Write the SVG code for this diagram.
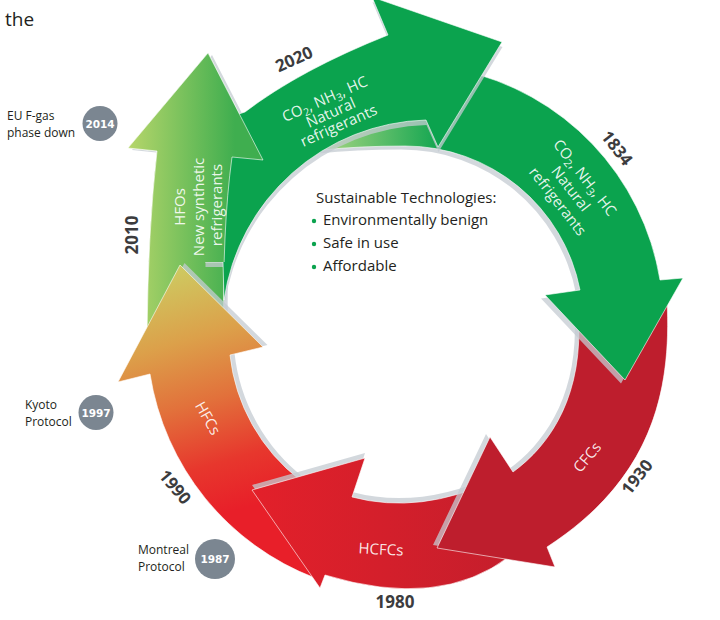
<svg xmlns="http://www.w3.org/2000/svg" xmlns:xlink="http://www.w3.org/1999/xlink" width="720" height="620" viewBox="0 0 720 620">
<style>
  .arrow { stroke:#ffffff; stroke-opacity:0.6; stroke-width:1; stroke-linejoin:miter; }
  .shadow { fill:#c4cbd1; opacity:0.75; }
  .lbl { font-family:"Open Sans","Noto Sans","DejaVu Sans",sans-serif; font-size:15px; fill:#ffffff; fill-opacity:0.9; text-anchor:middle; }
  .year { font-family:"Open Sans","Noto Sans","DejaVu Sans",sans-serif; font-weight:700; font-size:17px; fill:#3c3c3e; text-anchor:middle; }
  .note { font-family:"Open Sans","Noto Sans","DejaVu Sans",sans-serif; font-size:12px; fill:#231f20; }
  .badge { fill:#7b8691; }
  .badge-t { font-family:"DejaVu Sans","Liberation Sans",sans-serif; font-weight:700; font-size:10.5px; fill:#ffffff; text-anchor:middle; }
  .ctr { font-family:"Open Sans","Noto Sans","DejaVu Sans",sans-serif; font-size:15px; fill:#231f20; }
  .dot { fill:#0ba34e; }
</style>
<defs>
  <linearGradient id="gF" gradientUnits="userSpaceOnUse" x1="130" y1="0" x2="235" y2="0">
    <stop offset="0" stop-color="#b4d56a"/>
    <stop offset="1" stop-color="#3fae4f"/>
  </linearGradient>
  <linearGradient id="gE" gradientUnits="userSpaceOnUse" x1="185" y1="262" x2="255" y2="505">
    <stop offset="0" stop-color="#cdcc62"/>
    <stop offset="0.3" stop-color="#dca04a"/>
    <stop offset="0.55" stop-color="#e2713b"/>
    <stop offset="0.8" stop-color="#e7372d"/>
    <stop offset="1" stop-color="#e81f29"/>
  </linearGradient>
  <linearGradient id="gD" gradientUnits="userSpaceOnUse" x1="250" y1="0" x2="520" y2="0">
    <stop offset="0" stop-color="#e3202a"/>
    <stop offset="1" stop-color="#c41e2c"/>
  </linearGradient>
  <linearGradient id="gB" gradientUnits="userSpaceOnUse" x1="322" y1="0" x2="445" y2="0">
    <stop offset="0" stop-color="#a8d682"/>
    <stop offset="1" stop-color="#0ba34e"/>
  </linearGradient>
  <path id="pF" d="M147,335 Q148,230 157,151 L128,148 L208,53 L263,160 L232,157 Q222,230 224,335 Z"/>
  <path id="pE" d="M315,578 A262,262 0 0 1 150,374 L118,382 L180,265 L263,347 L230,355 A183,183 0 0 0 300,480 Z"/>
  <path id="pD" d="M510,556 Q440,610 325,575 L320,588 L252,490 L365,458 L352,497 Q420,515 495,480 Z"/>
  <path id="pC" d="M667,300 C672,395 650,480 547,547 L555,567 L437,548 L490,437 L513,472 C550,445 585,395 578,310 Z"/>
  <path id="pB" d="M460,70 A257,257 0 0 1 660,280 L683,278 L625,380 L545,295 L580,290 A178,178 0 0 0 405,146 Q360,146 322,150 L340,110 Z"/>
  <path id="pA" d="M205,125 L245,112 Q300,70 388,35 L372,-3 L502,42 L438,147 L426,120 A210,210 0 0 0 224,300 L223,262 L205,262 Z"/>
  <clipPath id="clipHfoTop"><rect x="0" y="0" width="300" height="262"/></clipPath>
</defs>

<text x="5" y="26" font-family="Open Sans, Noto Sans, sans-serif" font-size="19" fill="#231f20">the</text>

<g id="connectors">
  <g id="arrow-hfo-base">
    <use xlink:href="#pF" class="shadow" transform="translate(4,2)"/>
    <use xlink:href="#pF" class="arrow" fill="url(#gF)"/>
  </g>
  <g id="arrow-hfc">
    <use xlink:href="#pE" class="shadow" transform="translate(4.5,-2)"/>
    <use xlink:href="#pE" class="arrow" fill="url(#gE)"/>
    <text class="lbl" transform="translate(208,418) rotate(60)" y="5.5" font-size="16">HFCs</text>
  </g>
  <g id="arrow-hcfc">
    <use xlink:href="#pD" class="shadow" transform="translate(0,-5)"/>
    <use xlink:href="#pD" class="arrow" fill="url(#gD)"/>
    <text class="lbl" transform="translate(381,549) rotate(3)" y="5.5" font-size="16">HCFCs</text>
  </g>
  <g id="arrow-cfc">
    <use xlink:href="#pC" class="shadow" transform="translate(-4,-3)"/>
    <use xlink:href="#pC" class="arrow" fill="#be1e2d"/>
    <text class="lbl" transform="translate(587,457) rotate(-50)" y="5.5" font-size="16">CFCs</text>
  </g>
  <g id="arrow-natural-1834">
    <use xlink:href="#pB" class="shadow" transform="translate(-4,3.5)"/>
    <use xlink:href="#pB" class="arrow" fill="url(#gB)"/>
    <text class="lbl" font-size="16.5" transform="translate(571,191) rotate(52)">
      <tspan x="0" y="-14">CO<tspan font-size="11" dy="3">2</tspan><tspan dy="-3">, NH</tspan><tspan font-size="11" dy="3">3</tspan><tspan dy="-3">, HC</tspan></tspan>
      <tspan x="0" y="4">Natural</tspan>
      <tspan x="0" y="22">refrigerants</tspan>
    </text>
  </g>
  <g id="arrow-natural-2020">
    <use xlink:href="#pA" class="shadow" transform="translate(0.5,5)"/>
    <use xlink:href="#pA" class="arrow" fill="#0ba34e"/>
    <text class="lbl" font-size="16" transform="translate(333,113) rotate(-24)">
      <tspan x="0" y="-11">CO<tspan font-size="10.5" dy="3">2</tspan><tspan dy="-3">, NH</tspan><tspan font-size="10.5" dy="3">3</tspan><tspan dy="-3">, HC</tspan></tspan>
      <tspan x="0" y="4">Natural</tspan>
      <tspan x="0" y="19">refrigerants</tspan>
    </text>
  </g>
  <g id="arrow-hfo">
    <use xlink:href="#pF" class="arrow" fill="url(#gF)" clip-path="url(#clipHfoTop)"/>
    <text class="lbl" transform="rotate(-90)">
      <tspan x="-205" y="185">HFOs</tspan>
      <tspan x="-205" y="203.5">New synthetic</tspan>
      <tspan x="-205" y="222">refrigerants</tspan>
    </text>
  </g>
</g>

<g id="years">
  <text class="year" transform="translate(294,59) rotate(-24)" y="6">2020</text>
  <text class="year" transform="translate(617,148) rotate(52)" y="6">1834</text>
  <text class="year" transform="translate(132,235) rotate(-90)" y="6">2010</text>
  <text class="year" transform="translate(175,487) rotate(50)" y="6">1990</text>
  <text class="year" x="395" y="608">1980</text>
  <text class="year" transform="translate(637,477) rotate(-52)" y="6">1930</text>
</g>

<g id="event-2014">
  <circle class="badge" cx="100" cy="123.5" r="17.5"/>
  <text class="badge-t" x="100" y="127.5">2014</text>
  <text class="note" x="7" y="120">EU F-gas</text>
  <text class="note" x="7" y="137">phase down</text>
</g>
<g id="event-1997">
  <circle class="badge" cx="96" cy="412.5" r="17.5"/>
  <text class="badge-t" x="96" y="416.5">1997</text>
  <text class="note" x="25" y="409">Kyoto</text>
  <text class="note" x="25" y="426">Protocol</text>
</g>
<g id="event-1987">
  <circle class="badge" cx="215" cy="559" r="20"/>
  <text class="badge-t" x="215" y="563">1987</text>
  <text class="note" x="138" y="554">Montreal</text>
  <text class="note" x="138" y="571">Protocol</text>
</g>

<g id="center-box">
  <text class="ctr" x="316" y="203">Sustainable Technologies:</text>
  <circle class="dot" cx="314" cy="221" r="2.2"/>
  <text class="ctr" x="323" y="225">Environmentally benign</text>
  <circle class="dot" cx="314" cy="244" r="2.2"/>
  <text class="ctr" x="323" y="248">Safe in use</text>
  <circle class="dot" cx="314" cy="267" r="2.2"/>
  <text class="ctr" x="323" y="271">Affordable</text>
</g>
</svg>
